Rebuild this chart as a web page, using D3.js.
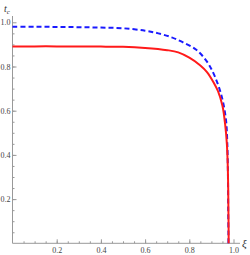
<!DOCTYPE html>
<script src="https://d3js.org/d3.v7.min.js"></script>
<style>
  body { margin: 0; background: #fff; }
  .axis path, .axis line { stroke: #999; }
  .axis text { font-family: "Liberation Serif", serif; font-size: 8px; fill: #444; }
  .lbl { font-family: "Liberation Serif", serif; font-style: italic; fill: #333; }
</style>
<body></body>
<script>
// red solid curve
var redXi = [0, 0.1, 0.2, 0.3, 0.4, 0.5, 0.6, 0.7, 0.75, 0.8, 0.85, 0.88, 0.91, 0.93, 0.95, 0.962, 0.97, 0.974, 0.976, 0.977, 0.978, 0.978];
var redT  = [0.891, 0.891, 0.891, 0.890, 0.890, 0.889, 0.884, 0.874, 0.864, 0.840, 0.805, 0.775, 0.728, 0.688, 0.622, 0.54, 0.45, 0.35, 0.25, 0.15, 0.05, 0];
// blue dashed curve
var blueXi = [0, 0.1, 0.2, 0.3, 0.4, 0.5, 0.6, 0.66, 0.72, 0.77, 0.83, 0.88, 0.916, 0.947, 0.966, 0.972, 0.975, 0.976, 0.977, 0.977];
var blueT  = [0.980, 0.980, 0.979, 0.978, 0.976, 0.973, 0.962, 0.950, 0.932, 0.910, 0.877, 0.822, 0.754, 0.663, 0.558, 0.45, 0.3, 0.15, 0.05, 0];
var majorTicks = [0.2, 0.4, 0.6, 0.8, 1.0];
var minorTicks = d3.range(1, 20).map(function(i) { return i * 0.05; });

var W = 250, H = 255;
var svg = d3.select("body").append("svg").attr("width", W).attr("height", H);

var x = d3.scaleLinear().domain([0, 1]).range([12.5, 233.5]);
var y = d3.scaleLinear().domain([0, 1]).range([243.3, 22.3]);

function zip(a, b) { return a.map(function(v, i) { return [v, b[i]]; }); }

// axes
var gx = svg.append("g").attr("class", "axis").attr("transform", "translate(0," + y(0) + ")");
gx.append("line").attr("x1", x(0)).attr("x2", 240).attr("y1", 0).attr("y2", 0);
gx.call(d3.axisBottom(x).tickValues(minorTicks).tickSize(-2).tickFormat(""))
  .select(".domain").remove();
var gx2 = svg.append("g").attr("class", "axis").attr("transform", "translate(0," + y(0) + ")");
gx2.call(d3.axisBottom(x).tickValues(majorTicks).tickSize(-4).tickPadding(4)
    .tickFormat(d3.format(".1f")))
  .select(".domain").remove();

var gy = svg.append("g").attr("class", "axis").attr("transform", "translate(" + x(0) + ",0)");
gy.append("line").attr("x1", 0).attr("x2", 0).attr("y1", 16).attr("y2", y(0));
gy.call(d3.axisLeft(y).tickValues(minorTicks).tickSize(-2).tickFormat(""))
  .select(".domain").remove();
var gy2 = svg.append("g").attr("class", "axis").attr("transform", "translate(" + x(0) + ",0)");
gy2.call(d3.axisLeft(y).tickValues(majorTicks).tickSize(-4).tickPadding(2)
    .tickFormat(d3.format(".1f")))
  .select(".domain").remove();

// curves
var line = d3.line()
  .x(function(d) { return x(d[0]); })
  .y(function(d) { return y(d[1]); })
  .curve(d3.curveCatmullRom);

svg.append("path").datum(zip(blueXi, blueT))
  .attr("d", line).attr("fill", "none")
  .attr("stroke", "#1a1aff").attr("stroke-width", 2)
  .attr("stroke-dasharray", "5,3");
svg.append("path").datum(zip(redXi, redT))
  .attr("d", line).attr("fill", "none")
  .attr("stroke", "#ff1a1a").attr("stroke-width", 2);

// labels
var tl = svg.append("text").attr("class", "lbl").attr("x", 4).attr("y", 12).attr("font-size", 10);
tl.append("tspan").text("t");
tl.append("tspan").attr("font-size", 7).attr("dy", 2).text("c");
svg.append("text").attr("class", "lbl").attr("x", 242).attr("y", 247)
  .attr("font-size", 11).text("ξ");
</script>
